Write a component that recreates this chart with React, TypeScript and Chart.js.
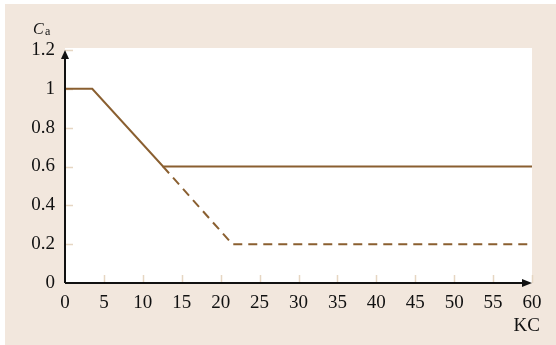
import React, { useEffect, useRef } from "react";
import { Chart, registerables } from "chart.js";

Chart.register(...registerables);

const solidX = [0, 3.5, 12.6, 60];
const solidY = [1, 1, 0.6, 0.6];
const dashedX = [12.6, 21.5, 60];
const dashedY = [0.6, 0.2, 0.2];
const xTicks = [0, 5, 10, 15, 20, 25, 30, 35, 40, 45, 50, 55, 60];
const yTicks = [0, 0.2, 0.4, 0.6, 0.8, 1, 1.2];

const LINE = "#8a5f30";
const BG = "#f2e7dd";
const TICK = "#e6d6c2";
const FONT = "'Liberation Serif', 'DejaVu Serif', serif";

const decor = {
  id: "decor",
  beforeDraw(chart: any) {
    const { ctx, chartArea } = chart;
    ctx.save();
    ctx.fillStyle = BG;
    ctx.fillRect(5, 4, chart.width - 5, chart.height - 4);
    ctx.fillStyle = "#ffffff";
    ctx.fillRect(chartArea.left, chartArea.top - 2, chartArea.right - chartArea.left, chartArea.bottom - chartArea.top + 2);
    const xs = chart.scales.x;
    const ys = chart.scales.y;
    ctx.strokeStyle = TICK;
    ctx.lineWidth = 1.5;
    ctx.beginPath();
    for (const v of xTicks) {
      if (v === 0) continue;
      const px = Math.round(xs.getPixelForValue(v)) + 0.5;
      ctx.moveTo(px, chartArea.bottom);
      ctx.lineTo(px, chartArea.bottom - 8);
    }
    for (const v of yTicks) {
      if (v === 0) continue;
      const py = Math.round(ys.getPixelForValue(v)) + 0.5;
      ctx.moveTo(chartArea.left, py);
      ctx.lineTo(chartArea.left + 8, py);
    }
    ctx.stroke();
    ctx.restore();
  },
  afterDraw(chart: any) {
    const { ctx, chartArea } = chart;
    const L = chartArea.left;
    const B = chartArea.bottom;
    const T = chartArea.top;
    const R = chartArea.right;
    ctx.save();
    ctx.strokeStyle = "#111";
    ctx.fillStyle = "#111";
    ctx.lineWidth = 2;
    ctx.beginPath();
    ctx.moveTo(L, B);
    ctx.lineTo(L, T + 6);
    ctx.moveTo(L, B);
    ctx.lineTo(R - 8, B);
    ctx.stroke();
    ctx.beginPath();
    ctx.moveTo(L, T);
    ctx.lineTo(L - 4, T + 9);
    ctx.lineTo(L + 4, T + 9);
    ctx.closePath();
    ctx.fill();
    ctx.beginPath();
    ctx.moveTo(R, B);
    ctx.lineTo(R - 10, B - 4);
    ctx.lineTo(R - 10, B + 4);
    ctx.closePath();
    ctx.fill();
    ctx.textBaseline = "alphabetic";
    ctx.textAlign = "left";
    ctx.font = `italic 16px ${FONT}`;
    ctx.fillText("C", 33, 34);
    ctx.font = `12px ${FONT}`;
    ctx.fillText("a", 45, 35);
    ctx.font = `19px ${FONT}`;
    ctx.textAlign = "right";
    ctx.fillText("KC", 540, 331);
    ctx.restore();
  },
};

export default function App() {
  const ref = useRef<HTMLCanvasElement>(null);
  useEffect(() => {
    document.body.style.margin = "0";
    const chart = new Chart(ref.current as HTMLCanvasElement, {
      type: "line",
      data: {
        datasets: [
          {
            data: solidX.map((x, i) => ({ x, y: solidY[i] })),
            borderColor: LINE,
            borderWidth: 2,
            pointRadius: 0,
            fill: false,
            tension: 0,
          },
          {
            data: dashedX.map((x, i) => ({ x, y: dashedY[i] })),
            borderColor: LINE,
            borderWidth: 2,
            borderDash: [9, 6],
            pointRadius: 0,
            fill: false,
            tension: 0,
          },
        ],
      },
      options: {
        animation: false,
        responsive: false,
        layout: { padding: { left: 0, top: 50, right: 24, bottom: 0 } },
        plugins: { legend: { display: false }, tooltip: { enabled: false } },
        scales: {
          x: {
            type: "linear",
            min: 0,
            max: 60,
            border: { display: false },
            grid: { display: false, drawTicks: false },
            afterFit: (s: any) => { s.height = 62; },
            afterBuildTicks: (s: any) => { s.ticks = xTicks.map((v) => ({ value: v })); },
            ticks: {
              color: "#111",
              font: { family: FONT, size: 19 },
              padding: 9,
              maxRotation: 0,
              autoSkip: false,
              callback: (v: any) => String(v),
            },
          },
          y: {
            type: "linear",
            min: 0,
            max: 1.2,
            border: { display: false },
            grid: { display: false, drawTicks: false },
            afterFit: (s: any) => { s.width = 65; },
            afterBuildTicks: (s: any) => { s.ticks = yTicks.map((v) => ({ value: v })); },
            ticks: {
              color: "#111",
              font: { family: FONT, size: 19 },
              padding: 10,
              autoSkip: false,
              callback: (v: any) => String(Number(Number(v).toFixed(1))),
            },
          },
        },
      },
      plugins: [decor],
    });
    return () => chart.destroy();
  }, []);
  return (
    <div style={{ position: "absolute", left: 0, top: 0, width: 556, height: 345 }}>
      <canvas ref={ref} width={556} height={345} />
    </div>
  );
}
